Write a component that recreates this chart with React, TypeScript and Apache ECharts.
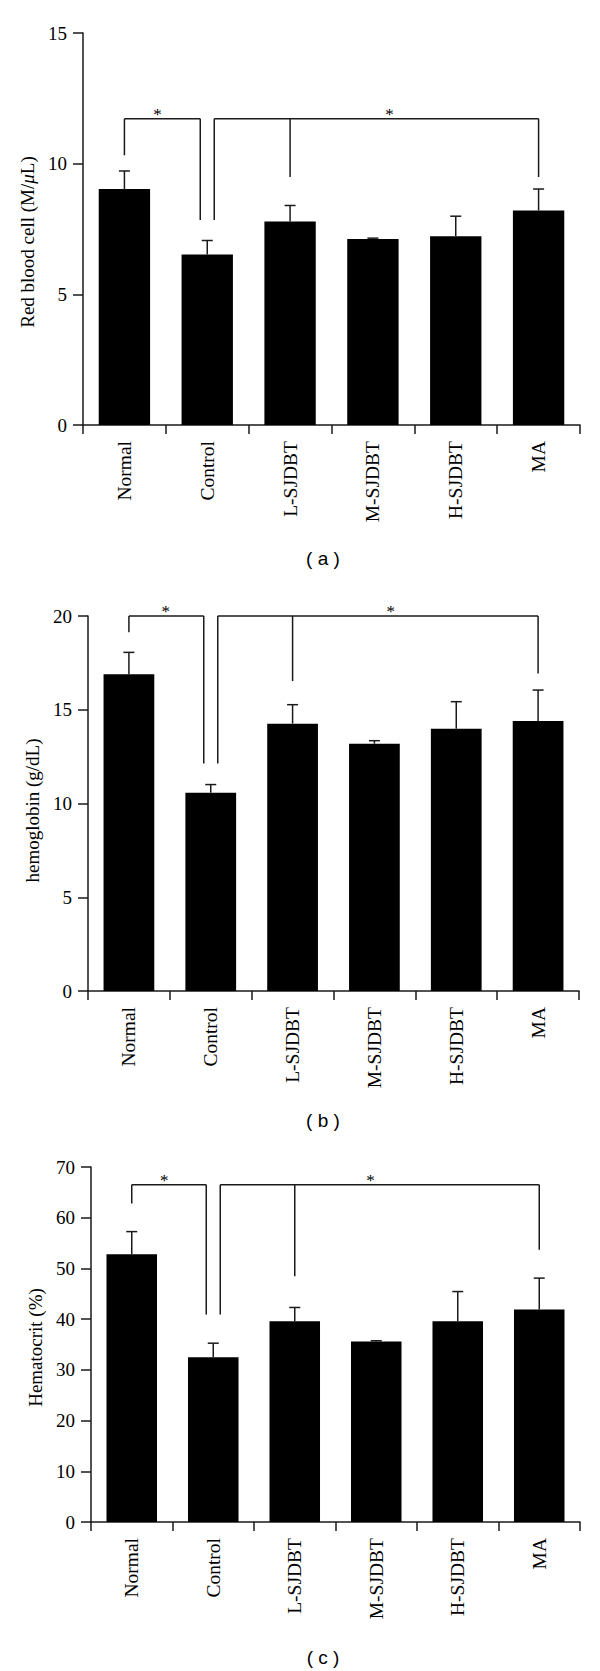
import React, { useEffect, useRef } from "react";
import * as echarts from "echarts";

const categories = ["Normal", "Control", "L-SJDBT", "M-SJDBT", "H-SJDBT", "MA"];

// (a) Red blood cell (M/μL): mean and SD
const rbcMean = [9.03, 6.52, 7.79, 7.12, 7.22, 8.21];
const rbcSD = [0.69, 0.54, 0.61, 0.03, 0.77, 0.82];
const rbcTicks = { min: 0, max: 15, interval: 5 };

// (b) hemoglobin (g/dL)
const hgbMean = [16.89, 10.58, 14.26, 13.19, 13.99, 14.4];
const hgbSD = [1.17, 0.43, 1.01, 0.16, 1.44, 1.65];
const hgbTicks = { min: 0, max: 20, interval: 5 };

// (c) Hematocrit (%)
const hctMean = [52.8, 32.5, 39.6, 35.6, 39.6, 41.9];
const hctSD = [4.46, 2.76, 2.7, 0.14, 5.84, 6.19];
const hctTicks = { min: 0, max: 70, interval: 10 };

// significance brackets: leg categories, leg lower ends, bracket level, star position (category units)
const sigA = [
  { legs: [0, 1], ends: [10.32, 7.84], top: 11.72, star: 0.4 },
  { legs: [1, 2, 5], ends: [7.84, 9.49, 9.49], top: 11.72, star: 3.2 },
];
const sigB = [
  { legs: [0, 1], ends: [19.13, 12.13], top: 20, star: 0.45 },
  { legs: [1, 2, 5], ends: [12.13, 16.53, 16.93], top: 20, star: 3.2 },
];
const sigC = [
  { legs: [0, 1], ends: [62.8, 40.9], top: 66.5, star: 0.4 },
  { legs: [1, 2, 5], ends: [40.9, 48.45, 53.7], top: 66.5, star: 2.93 },
];

const captions = ["( a )", "( b )", "( c )"];

const SERIF = "'Liberation Serif', 'Times New Roman', serif";
const SANS = "'Liberation Sans', Arial, sans-serif";
const INK = "#1a1a1a";

function xAxisFor(gi: number) {
  return {
    type: "category",
    gridIndex: gi,
    data: categories,
    boundaryGap: true,
    axisLine: { lineStyle: { color: INK, width: 1.5 } },
    axisTick: { show: true, inside: false, length: 9, alignWithLabel: false, lineStyle: { color: INK, width: 1.5 } },
    axisLabel: { rotate: 90, margin: 16, color: "#000", fontFamily: SERIF, fontSize: 19.5 },
    splitLine: { show: false },
  };
}

function yAxisFor(gi: number, t: any, name: string, gap: number, shift: number, rich?: any) {
  return {
    type: "value",
    gridIndex: gi,
    min: t.min,
    max: t.max,
    interval: t.interval,
    name,
    nameLocation: "middle",
    nameGap: gap,
    nameRotate: 90,
    nameTextStyle: { color: "#000", fontFamily: SERIF, fontSize: 19, padding: [0, shift, 0, 0], rich },
    axisLine: { show: true, lineStyle: { color: INK, width: 1.5 } },
    axisTick: { show: true, inside: false, length: 10, lineStyle: { color: INK, width: 1.5 } },
    axisLabel: { margin: 16, color: "#000", fontFamily: SERIF, fontSize: 19 },
    splitLine: { show: false },
  };
}

function barSeries(gi: number, mean: number[]) {
  return {
    type: "bar",
    xAxisIndex: gi,
    yAxisIndex: gi,
    data: mean,
    barWidth: "62%",
    itemStyle: { color: "#000" },
    silent: true,
  };
}

function errorSeries(gi: number, mean: number[], sd: number[]) {
  return {
    type: "custom",
    xAxisIndex: gi,
    yAxisIndex: gi,
    clip: false,
    z: 5,
    silent: true,
    data: mean.map((m, i) => [i, m, m + sd[i]]),
    encode: { x: 0, y: [1, 2] },
    renderItem: (params: any, api: any) => {
      const i = api.value(0);
      const lo = api.coord([i, api.value(1)]);
      const hi = api.coord([i, api.value(2)]);
      const half = 5.5;
      const st = { stroke: INK, lineWidth: 1.5 };
      return {
        type: "group",
        children: [
          { type: "line", shape: { x1: lo[0], y1: lo[1], x2: hi[0], y2: hi[1] }, style: st },
          { type: "line", shape: { x1: hi[0] - half, y1: hi[1], x2: hi[0] + half, y2: hi[1] }, style: st },
        ],
      };
    },
  };
}

function bracketSeries(gi: number, sig: any[]) {
  return {
    type: "custom",
    xAxisIndex: gi,
    yAxisIndex: gi,
    clip: false,
    z: 6,
    silent: true,
    data: sig.map((b, k) => [b.legs[0], b.top, k]),
    encode: { x: 0, y: 1 },
    renderItem: (params: any, api: any) => {
      const k = params.dataIndex;
      const b = sig[k];
      const nudge = 7;
      const st = { stroke: INK, lineWidth: 1.5 };
      const legs = b.legs.map((c: number, j: number) => {
        const t = api.coord([c, b.top]);
        const e = api.coord([c, b.ends[j]]);
        let dx = 0;
        if (k === 0 && j === b.legs.length - 1) dx = -nudge;
        if (k === 1 && j === 0) dx = nudge;
        return { x: t[0] + dx, y1: t[1], y2: e[1] };
      });
      const children: any[] = [];
      children.push({
        type: "line",
        shape: { x1: legs[0].x, y1: legs[0].y1, x2: legs[legs.length - 1].x, y2: legs[0].y1 },
        style: st,
      });
      legs.forEach((l: any) => {
        children.push({ type: "line", shape: { x1: l.x, y1: l.y1, x2: l.x, y2: l.y2 }, style: st });
      });
      // star position between two category centres
      const f = Math.floor(b.star);
      const frac = b.star - f;
      const p0 = api.coord([f, b.top]);
      const p1 = api.coord([f + 1, b.top]);
      const sx = p0[0] + frac * (p1[0] - p0[0]);
      children.push({
        type: "text",
        x: sx,
        y: p0[1] + 4,
        style: { text: "*", fill: "#000", font: `17px ${SERIF}`, align: "center", verticalAlign: "bottom" },
      });
      return { type: "group", children };
    },
  };
}

export default function App() {
  const ref = useRef<HTMLDivElement>(null);
  useEffect(() => {
    if (!ref.current) return;
    const chart = echarts.init(ref.current, undefined, { renderer: "svg" });
    const option: any = {
      animation: false,
      backgroundColor: "#fff",
      grid: [
        { left: 83, width: 497, top: 33, height: 392 },
        { left: 88, width: 491, top: 616, height: 375 },
        { left: 91, width: 489, top: 1167, height: 355 },
      ],
      xAxis: [xAxisFor(0), xAxisFor(1), xAxisFor(2)],
      yAxis: [
        yAxisFor(0, rbcTicks, "Red blood cell (M/{i|μ}L)", 35, 26, {
          i: { fontStyle: "italic", fontFamily: SERIF, fontSize: 19, color: "#000" },
        }),
        yAxisFor(1, hgbTicks, "hemoglobin (g/dL)", 43, 14),
        yAxisFor(2, hctTicks, "Hematocrit (%)", 46, 6),
      ],
      series: [
        barSeries(0, rbcMean),
        errorSeries(0, rbcMean, rbcSD),
        bracketSeries(0, sigA),
        barSeries(1, hgbMean),
        errorSeries(1, hgbMean, hgbSD),
        bracketSeries(1, sigB),
        barSeries(2, hctMean),
        errorSeries(2, hctMean, hctSD),
        bracketSeries(2, sigC),
      ],
      graphic: [
        { type: "text", x: 323, y: 558, style: { text: captions[0], fill: "#000", font: `19px ${SANS}`, align: "center", verticalAlign: "middle" } },
        { type: "text", x: 323, y: 1120, style: { text: captions[1], fill: "#000", font: `19px ${SANS}`, align: "center", verticalAlign: "middle" } },
        { type: "text", x: 323, y: 1657, style: { text: captions[2], fill: "#000", font: `19px ${SANS}`, align: "center", verticalAlign: "middle" } },
      ],
    };
    chart.setOption(option);
    return () => chart.dispose();
  }, []);
  return (
    <div
      ref={ref}
      style={{ position: "absolute", left: 0, top: 0, width: 600, height: 1671, background: "#fff" }}
    />
  );
}
